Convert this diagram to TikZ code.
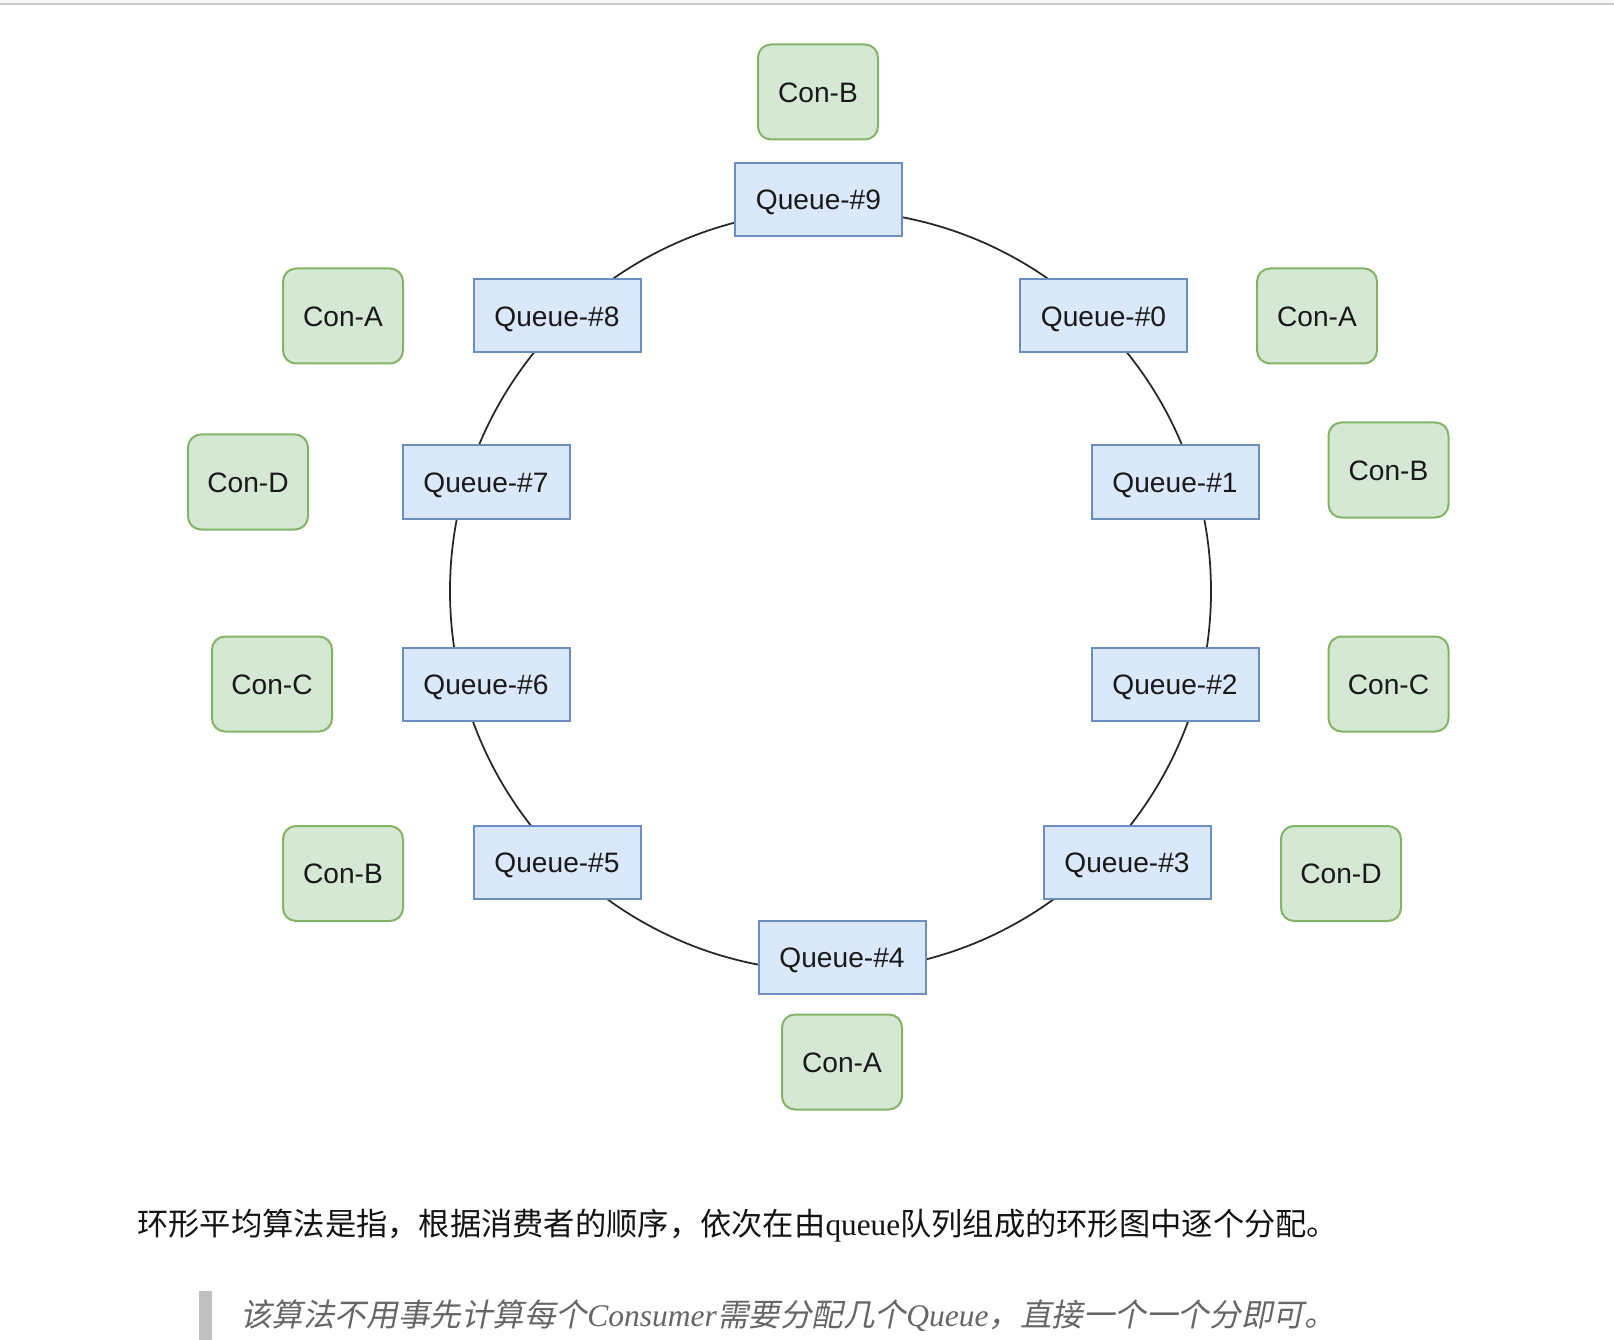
\documentclass[tikz,border=0pt]{standalone}
\usepackage{fontspec}
\setmainfont{Liberation Serif}
\newfontfamily\nodefont{Liberation Sans}
\newfontfamily\cjk{Noto Sans CJK SC}
\newfontfamily\cjkslant[FakeSlant=0.2]{Noto Sans CJK SC}
\definecolor{qfill}{HTML}{DAE8FC}
\definecolor{qline}{HTML}{6C8EBF}
\definecolor{cfill}{HTML}{D5E8D4}
\definecolor{cline}{HTML}{82B366}
\tikzset{
  queuebox/.style={draw=qline, fill=qfill, line width=0.4mm, minimum width=33.4mm, minimum height=14.6mm, inner sep=0pt, text height=11.5pt, text depth=0pt, text=black!90, font=\nodefont\fontsize{16pt}{18pt}\selectfont},
  conbox/.style={draw=cline, fill=cfill, line width=0.4mm, rounded corners=2.6mm, minimum width=24mm, minimum height=19mm, inner sep=0pt, text height=11.5pt, text depth=0pt, text=black!90, font=\nodefont\fontsize{16pt}{18pt}\selectfont},
  ring/.style={draw=black!85, line width=0.35mm}
}
\begin{document}
\begin{tikzpicture}[x=0.2mm,y=-0.2mm]
\useasboundingbox (0,0) rectangle (1614,1340);
\fill[black!3] (0,0) rectangle (1614,4);
\draw[black!22, line width=0.3mm] (0,4) -- (1614,4);
\draw[ring] (830.5,591) circle (76.1mm);
\node[queuebox] (q9) at (818.5,199.5) {Queue-\#9};
\node[queuebox] (q0) at (1103.5,316) {Queue-\#0};
\node[queuebox] (q1) at (1175,482) {Queue-\#1};
\node[queuebox] (q2) at (1175,684) {Queue-\#2};
\node[queuebox] (q3) at (1127,862) {Queue-\#3};
\node[queuebox] (q4) at (842,957.5) {Queue-\#4};
\node[queuebox] (q5) at (557,862) {Queue-\#5};
\node[queuebox] (q6) at (486,684) {Queue-\#6};
\node[queuebox] (q7) at (486,482) {Queue-\#7};
\node[queuebox] (q8) at (557,316) {Queue-\#8};
\node[conbox] (c9) at (818,92) {Con-B};
\node[conbox] (c0) at (1317,316) {Con-A};
\node[conbox] (c1) at (1388.5,470) {Con-B};
\node[conbox] (c2) at (1388.5,684) {Con-C};
\node[conbox] (c3) at (1341,873.5) {Con-D};
\node[conbox] (c4) at (842,1062) {Con-A};
\node[conbox] (c5) at (343,873.5) {Con-B};
\node[conbox] (c6) at (272,684) {Con-C};
\node[conbox] (c7) at (248,482) {Con-D};
\node[conbox] (c8) at (343,316) {Con-A};
\node[anchor=base west, inner sep=0pt, text=black!92, font=\fontsize{17.8pt}{20pt}\selectfont] (line1) at (137,1235) {{\cjk 环形平均算法是指，根据消费者的顺序，依次在由}queue{\cjk 队列组成的环形图中逐个分配。}};
\fill[black!25] (199,1291) rectangle (212,1340);
\node[anchor=base west, inner sep=0pt, text=black!60, font=\fontsize{17.95pt}{20pt}\selectfont] (line2) at (240,1326) {{\cjkslant 该算法不用事先计算每个}\textit{Consumer}{\cjkslant 需要分配几个}\textit{Queue}{\cjkslant ，直接一个一个分即可。}};
\end{tikzpicture}
\end{document}
